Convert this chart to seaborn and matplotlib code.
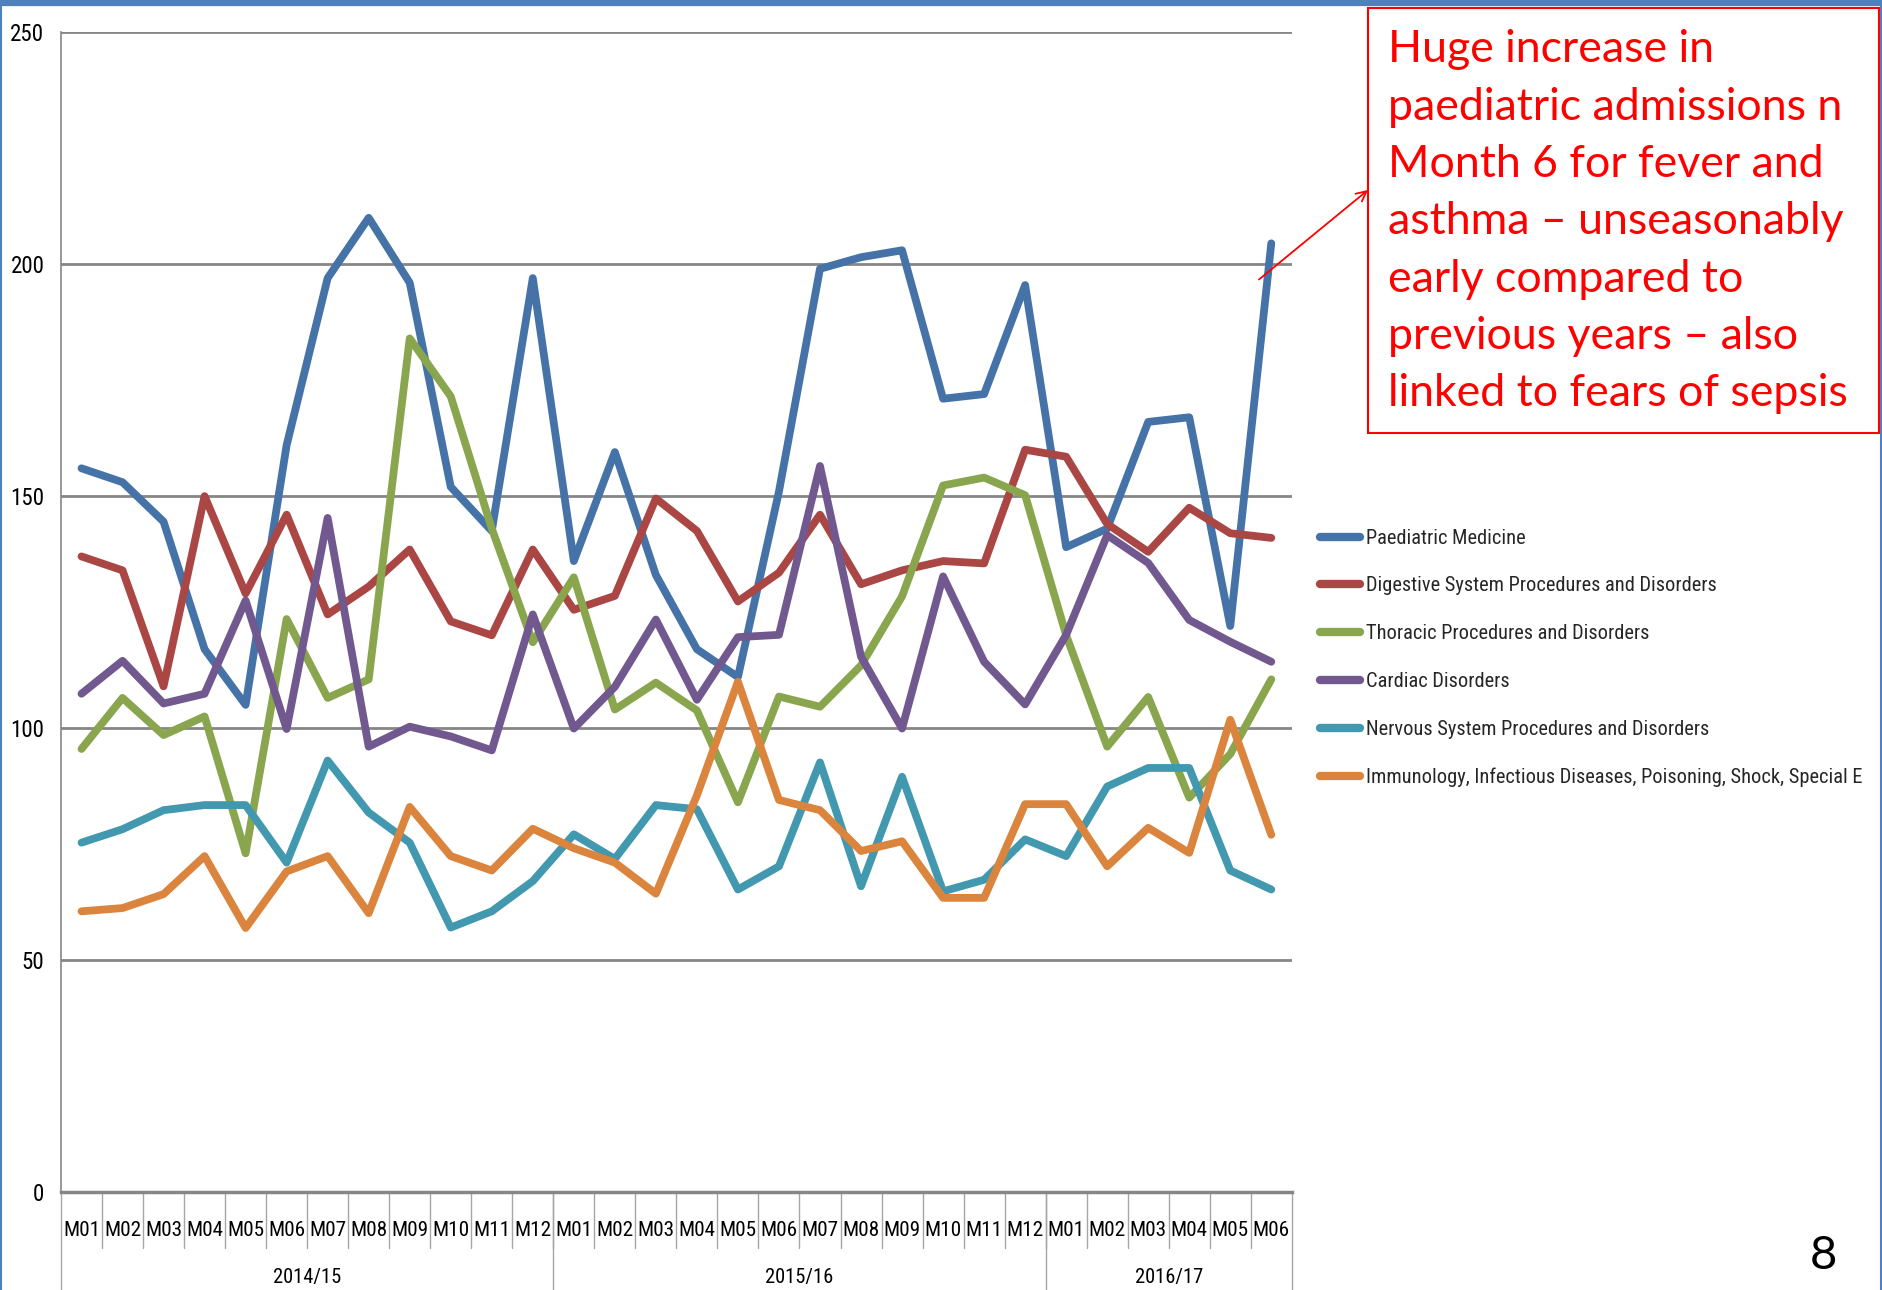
import os
import matplotlib
matplotlib.use("Agg")
import matplotlib.pyplot as plt
import matplotlib.font_manager as fm
from matplotlib.font_manager import FontProperties
from matplotlib.lines import Line2D
from matplotlib.patches import Rectangle
import matplotlib.transforms as mtransforms
import numpy as np
import pandas as pd
import seaborn as sns

# ---- data -------------------------------------------------------------
months = ["M01", "M02", "M03", "M04", "M05", "M06", "M07", "M08", "M09", "M10", "M11", "M12",
          "M01", "M02", "M03", "M04", "M05", "M06", "M07", "M08", "M09", "M10", "M11", "M12",
          "M01", "M02", "M03", "M04", "M05", "M06"]
years = ["2014/15", "2015/16", "2016/17"]
year_lengths = [12, 12, 6]

paediatric = [156, 153, 144.5, 117, 105, 161, 197, 210, 196, 152, 142.5, 197,
              136, 159.5, 133, 117, 111, 151, 199, 201.5, 203, 171, 172, 195.5,
              139, 143, 166, 167, 122, 204.5]
digestive = [137, 134, 109, 150, 129, 146, 124.5, 130.5, 138.5, 123, 120, 138.5,
             125.5, 128.5, 149.5, 142.5, 127.3, 133.5, 146, 131, 134, 136, 135.5, 160,
             158.5, 144, 138, 147.5, 142, 141]
thoracic = [95.5, 106.5, 98.5, 102.5, 73, 123.5, 106.5, 110.5, 184, 171.5, 143, 118.5,
            132.5, 104, 109.8, 103.8, 84, 106.8, 104.6, 113.5, 128.4, 152.3, 154, 150.2,
            120, 96, 106.7, 85, 94.4, 110.5]
cardiac = [107.4, 114.5, 105.3, 107.4, 127.5, 99.8, 145.3, 96, 100.3, 98.2, 95.2, 124.5,
           99.9, 108.9, 123.4, 106.1, 119.6, 120.1, 156.5, 115.4, 99.9, 132.7, 114.3, 105.1,
           120.1, 141.6, 135.6, 123.3, 118.6, 114.3]
nervous = [75.3, 78.2, 82.3, 83.4, 83.4, 71, 93, 81.8, 75.3, 57, 60.5, 67,
           77.1, 71.8, 83.4, 82.5, 65.2, 70.2, 92.6, 65.9, 89.5, 64.8, 67.3, 76,
           72.4, 87.4, 91.4, 91.4, 69.3, 65.2]
immunology = [60.5, 61.2, 64.2, 72.4, 56.9, 69.1, 72.4, 60.1, 83, 72.4, 69.3, 78.3,
              74.1, 71, 64.3, 85.5, 110, 84.5, 82.3, 73.5, 75.6, 63.4, 63.4, 83.6,
              83.6, 70.2, 78.5, 73.1, 101.8, 77]

series_names = ["Paediatric Medicine",
                "Digestive System Procedures and Disorders",
                "Thoracic Procedures and Disorders",
                "Cardiac Disorders",
                "Nervous System Procedures and Disorders",
                "Immunology, Infectious Diseases, Poisoning, Shock, Special E"]
series_values = [paediatric, digestive, thoracic, cardiac, nervous, immunology]
colors = ["#4572A7", "#AA4643", "#89A54E", "#71588F", "#4198AF", "#DB843D"]
y_ticks = [0, 50, 100, 150, 200, 250]

note_lines = ["Huge increase in",
              "paediatric admissions n",
              "Month 6 for fever and",
              "asthma \u2013 unseasonably",
              "early compared to",
              "previous years \u2013 also",
              "linked to fears of sepsis"]
page_number = "8"

# ---- fonts ------------------------------------------------------------
sns.set_style("white")
plt.rcParams["font.family"] = ["DejaVu Sans"]

def pick_narrow_font():
    """Return FontProperties for a condensed sans face if one is installed."""
    bad = ("serif", "mono", "bold", "italic", "oblique", "light", "thin", "black",
           "medium", "semibold", "extrabold", "extracondensed", "ultracondensed")
    prefs = ["liberationsansnarrow", "robotocondensed", "notosans", "opensans",
             "dejavusanscondensed", "lato", ""]
    best = None
    for f in fm.fontManager.ttflist:
        base = os.path.basename(f.fname).lower().replace("-", "").replace("_", "")
        if not ("narrow" in base or "condensed" in base):
            continue
        if any(b in base for b in bad):
            continue
        rank = next(i for i, p in enumerate(prefs) if p in base)
        if best is None or rank < best[0]:
            best = (rank, f.fname)
    if best is not None:
        return FontProperties(fname=best[1])
    names = {f.name for f in fm.fontManager.ttflist}
    for fam in ["Roboto", "Liberation Sans", "DejaVu Sans"]:
        if fam in names:
            return FontProperties(family=fam)
    return FontProperties()

narrow_prop = pick_narrow_font()
names = {f.name for f in fm.fontManager.ttflist}
note_prop = FontProperties(family="Lato" if "Lato" in names else "DejaVu Sans")

fig = plt.figure(figsize=(18.82, 12.90), dpi=100)
renderer = fig.canvas.get_renderer()

def sized(prop, text, width_px):
    """Copy of prop with a size that gives text the requested width."""
    p = prop.copy()
    p.set_size(20)
    w, h, d = renderer.get_text_width_height_descent(text, p, ismath=False)
    p.set_size(20 * width_px / w)
    return p

tick_prop = sized(narrow_prop, "250", 34)
month_prop = sized(narrow_prop, "M01", 37)
year_prop = sized(narrow_prop, "2014/15", 68)
legend_prop = sized(narrow_prop, series_names[1], 350)
note_p = sized(note_prop, note_lines[1], 455)
page_prop = note_prop.copy()
page_prop.set_size(34)

# ---- chart ------------------------------------------------------------
grid_col = "#868686"
sep_col = "#A6A6A6"

rows = []
for name, vals in zip(series_names, series_values):
    for i, v in enumerate(vals):
        rows.append({"idx": i, "value": v, "series": name})
df = pd.DataFrame(rows)

ax = fig.add_axes([0.0324, 0.076, 0.654, 0.899])

sns.lineplot(data=df, x="idx", y="value", hue="series", hue_order=series_names,
             palette=colors, linewidth=5.6, ax=ax, legend=False,
             solid_capstyle="round", solid_joinstyle="round", zorder=3)

ax.set_xlim(-0.5, len(months) - 0.5)
ax.set_ylim(0, 250)
ax.set_yticks(y_ticks)
ax.set_yticklabels([str(t) for t in y_ticks])
for lbl in ax.get_yticklabels():
    lbl.set_fontproperties(tick_prop)
ax.yaxis.grid(True, color=grid_col, linewidth=2.0, zorder=0)
ax.xaxis.grid(False)
ax.set_xlabel("")
ax.set_ylabel("")

for side in ["top", "right"]:
    ax.spines[side].set_visible(False)
ax.spines["left"].set_color(grid_col)
ax.spines["left"].set_linewidth(1.2)
ax.spines["bottom"].set_color(grid_col)
ax.spines["bottom"].set_linewidth(2.5)
ax.tick_params(axis="y", length=6, width=1.5, color=grid_col, pad=6, labelcolor="black")

ax.set_xticks(range(len(months)))
ax.set_xticklabels(months)
for lbl in ax.get_xticklabels():
    lbl.set_fontproperties(month_prop)
ax.tick_params(axis="x", length=0, pad=21, labelcolor="black")

# category separators under the axis
trans = mtransforms.blended_transform_factory(ax.transData, ax.transAxes)
for i in range(1, len(months)):
    ax.plot([i - 0.5, i - 0.5], [0, -0.048], transform=trans, color=sep_col,
            linewidth=1.0, clip_on=False)
bounds = np.concatenate([[0], np.cumsum(year_lengths)]) - 0.5
for b in bounds:
    ax.plot([b, b], [0, -0.09], transform=trans, color=sep_col,
            linewidth=1.0, clip_on=False)
for y, (lo, hi) in zip(years, zip(bounds[:-1], bounds[1:])):
    ax.text((lo + hi) / 2, -0.074, y, transform=trans, ha="center", va="center",
            fontproperties=year_prop, color="black")

# legend
fs_px = legend_prop.get_size_in_points() * fig.dpi / 72
_, th, _ = renderer.get_text_width_height_descent("Dg", legend_prop, ismath=False)
handles = [Line2D([0], [0], color=c, linewidth=6, solid_capstyle="round") for c in colors]
fig.legend(handles, series_names, loc="center left", bbox_to_anchor=(0.7014, 0.4900),
           frameon=False, prop=legend_prop, handlelength=40 / fs_px,
           handletextpad=6 / fs_px, labelspacing=max(0.1, (47.8 - th) / fs_px),
           borderpad=0, borderaxespad=0)

# annotation box
box = Rectangle((1368 / 1882, 1 - 433 / 1290), (1879 - 1368) / 1882, (433 - 8) / 1290,
                transform=fig.transFigure, fill=False, edgecolor="red", linewidth=1.5)
fig.add_artist(box)
for k, line in enumerate(note_lines):
    fig.text(1388 / 1882, 1 - (50 + 57.3 * k) / 1290, line, ha="left", va="center",
             fontproperties=note_p, color="red")
ax.annotate("", xy=(1368 / 1882, 1 - 190 / 1290), xycoords="figure fraction",
            xytext=(28.7, 196.7), textcoords="data",
            arrowprops=dict(arrowstyle="->", color="red", lw=1.3,
                            shrinkA=0, shrinkB=0, mutation_scale=18))

# page number
fig.text(1823 / 1882, 1 - 1256 / 1290, page_number, ha="center", va="center",
         fontproperties=page_prop, color="black")

# slide frame
frame_col = "#4F81BD"
fig.add_artist(Line2D([0, 1], [1 - 3 / 1290, 1 - 3 / 1290], transform=fig.transFigure,
                      color=frame_col, linewidth=4.5))
fig.add_artist(Line2D([1 / 1882, 1 / 1882], [0, 1], transform=fig.transFigure,
                      color=frame_col, linewidth=1.5))
fig.add_artist(Line2D([1 - 1 / 1882, 1 - 1 / 1882], [0, 1], transform=fig.transFigure,
                      color=frame_col, linewidth=1.5))

fig.savefig("out.png", dpi=100)
